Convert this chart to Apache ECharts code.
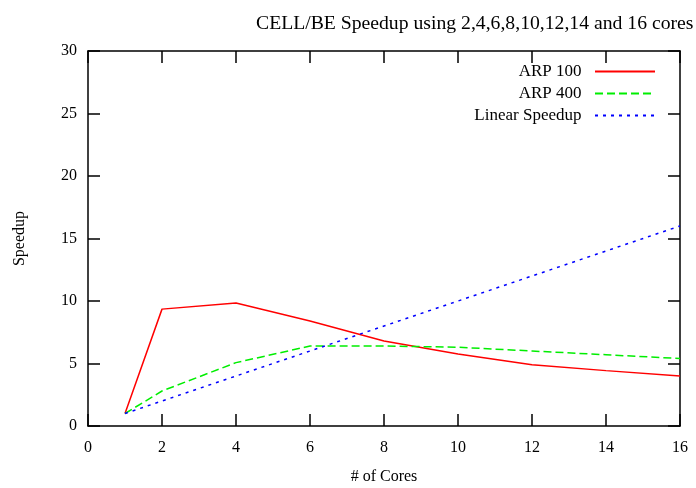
<!DOCTYPE html>
<html>
<head>
<meta charset="utf-8">
<script src="https://cdn.jsdelivr.net/npm/echarts@6/dist/echarts.min.js"></script>
<style>
  html, body { margin: 0; padding: 0; background: #fff; }
  #chart { width: 696px; height: 488px; }
</style>
</head>
<body>
<div id="chart"></div>
<script>
const cores = [1, 2, 4, 6, 8, 10, 12, 14, 16];
const arp100 = [1, 9.35, 9.84, 8.4, 6.8, 5.76, 4.9, 4.43, 4.0];
const arp400 = [1, 2.8, 5.07, 6.4, 6.4, 6.3, 6.0, 5.7, 5.4];
const linear = [1, 2, 4, 6, 8, 10, 12, 14, 16];

const pairs = (ys) => cores.map((c, i) => [c, ys[i]]);

const font = 'Liberation Serif';
const axisLine = {onZero: false, lineStyle: {color: '#000', width: 1.5}};
const tick = {inside: true, length: 12, lineStyle: {color: '#000', width: 1.5}};

const myChart = echarts.init(document.getElementById('chart'));
const option = {
  animation: false,
  title: {
    text: 'CELL/BE Speedup using 2,4,6,8,10,12,14 and 16 cores',
    left: 251,
    top: 9,
    textStyle: {fontFamily: font, fontSize: 19.7, fontWeight: 'normal', color: '#000'}
  },
  legend: {
    orient: 'vertical',
    right: 40,
    top: 63,
    padding: 0,
    align: 'right',
    itemWidth: 60,
    itemHeight: 12,
    itemGap: 5,
    itemStyle: {opacity: 0},
    formatter: (name) => name + '  ',
    textStyle: {fontFamily: font, fontSize: 17, color: '#000'},
    data: ['ARP 100', 'ARP 400', 'Linear Speedup']
  },
  grid: {left: 88, right: 16, top: 51, bottom: 62, outerBoundsMode: 'none'},
  xAxis: [{
    type: 'value', min: 0, max: 16, interval: 2,
    name: '# of Cores', nameLocation: 'middle', nameGap: 43,
    nameTextStyle: {fontFamily: font, fontSize: 16, color: '#000'},
    axisLine: axisLine, axisTick: tick,
    axisLabel: {fontFamily: font, fontSize: 16, color: '#000', margin: 14},
    splitLine: {show: false}
  }, {
    type: 'value', min: 0, max: 16, interval: 2, position: 'top',
    axisLine: axisLine, axisTick: tick,
    axisLabel: {show: false}, splitLine: {show: false}
  }],
  yAxis: [{
    type: 'value', min: 0, max: 30, interval: 5,
    name: 'Speedup', nameLocation: 'middle', nameGap: 60,
    nameTextStyle: {fontFamily: font, fontSize: 16, color: '#000'},
    axisLine: axisLine, axisTick: tick,
    axisLabel: {fontFamily: font, fontSize: 16, color: '#000', margin: 11},
    splitLine: {show: false}
  }, {
    type: 'value', min: 0, max: 30, interval: 5, position: 'right',
    axisLine: axisLine, axisTick: tick,
    axisLabel: {show: false}, splitLine: {show: false}
  }],
  series: [{
    name: 'ARP 100', type: 'line', symbol: 'none',
    data: pairs(arp100),
    lineStyle: {color: '#ff0000', width: 1.5, type: 'solid'},
    itemStyle: {color: '#ff0000'}
  }, {
    name: 'ARP 400', type: 'line', symbol: 'none',
    data: pairs(arp400),
    lineStyle: {color: '#00ee00', width: 1.5, type: [8, 4]},
    itemStyle: {color: '#00ee00'}
  }, {
    name: 'Linear Speedup', type: 'line', symbol: 'none',
    data: pairs(linear),
    lineStyle: {color: '#0000ff', width: 1.5, type: [3, 5]},
    itemStyle: {color: '#0000ff'}
  }]
};

myChart.setOption(option);
</script>
</body>
</html>
